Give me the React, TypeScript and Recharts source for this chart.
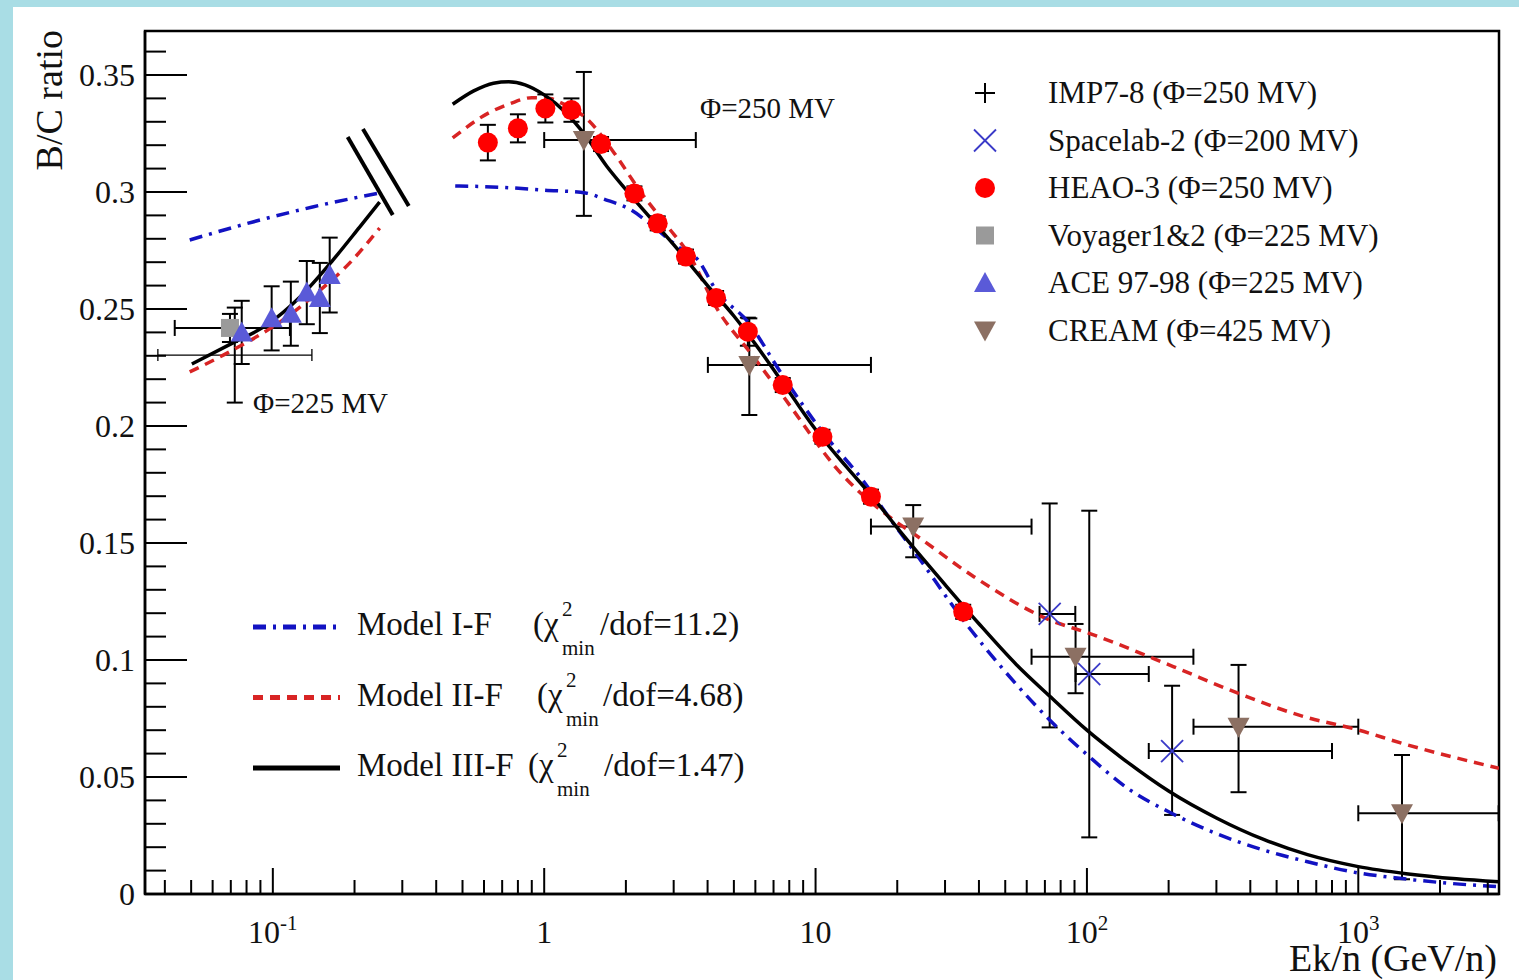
import React from 'react';
import {
  ComposedChart,
  XAxis,
  YAxis,
  Line,
  Scatter,
  ErrorBar,
  ReferenceArea,
  ReferenceLine,
  Legend,
} from 'recharts';

const W = 1519;
const H = 980;
const FONT = '"Liberation Serif", "Times New Roman", serif';

const xDomain = [0.0338, 3300];
const yDomain = [0, 0.3688];

// axis ticks
const xTicks = [
  0.04, 0.05, 0.06, 0.07, 0.08, 0.09, 0.1, 0.2, 0.3, 0.4, 0.5, 0.6, 0.7, 0.8, 0.9, 1, 2, 3, 4, 5, 6, 7, 8,
  9, 10, 20, 30, 40, 50, 60, 70, 80, 90, 100, 200, 300, 400, 500, 600, 700, 800, 900, 1000, 2000, 3000,
];
const xMajorTicks = [0.1, 1, 10, 100, 1000];
const xMajorBase = ['10', '1', '10', '10', '10'];
const xMajorExp = ['-1', '', '', '2', '3'];

const yTicks = [
  0, 0.01, 0.02, 0.03, 0.04, 0.05, 0.06, 0.07, 0.08, 0.09, 0.1, 0.11, 0.12, 0.13, 0.14, 0.15, 0.16, 0.17,
  0.18, 0.19, 0.2, 0.21, 0.22, 0.23, 0.24, 0.25, 0.26, 0.27, 0.28, 0.29, 0.3, 0.31, 0.32, 0.33, 0.34,
  0.35, 0.36,
];
const yMajorTicks = [0, 0.05, 0.1, 0.15, 0.2, 0.25, 0.3, 0.35];
const yMajorLabels = ['0', '0.05', '0.1', '0.15', '0.2', '0.25', '0.3', '0.35'];

// data sets (ex / ey = [low, high] or symmetric)
const imp78 = [{ x: 0.0724, y: 0.2303, ex: [0.0347, 0.0669], ey: 0.0203 }];

const voyager = [{ x: 0.0695, y: 0.2419, ex: [0.026, 0.0461], ey: 0.006 }];

const ace = [
  { x: 0.0768, y: 0.24, ey: 0.0135 },
  { x: 0.099, y: 0.246, ey: 0.0137 },
  { x: 0.1165, y: 0.248, ey: 0.0137 },
  { x: 0.1334, y: 0.257, ey: 0.0135 },
  { x: 0.149, y: 0.2547, ey: 0.015 },
  { x: 0.162, y: 0.2645, ey: 0.016 },
];

const heao = [
  { x: 0.62, y: 0.3211, ey: 0.0076 },
  { x: 0.8, y: 0.3272, ey: 0.006 },
  { x: 1.01, y: 0.3357, ey: 0.006 },
  { x: 1.26, y: 0.335, ey: 0.005 },
  { x: 1.62, y: 0.3205, ey: 0.003 },
  { x: 2.15, y: 0.2994, ey: 0.003 },
  { x: 2.62, y: 0.2866, ey: 0.003 },
  { x: 3.33, y: 0.2724, ey: 0.003 },
  { x: 4.3, y: 0.2547, ey: 0.003 },
  { x: 5.63, y: 0.2403, ey: 0.006 },
  { x: 7.57, y: 0.2175, ey: 0.003 },
  { x: 10.6, y: 0.1954, ey: 0.003 },
  { x: 16.0, y: 0.1698, ey: 0.003 },
  { x: 35.0, y: 0.1206, ey: 0.003 },
];

const spacelab = [
  { x: 72.9, y: 0.1197, ex: [6, 17.7], ey: [0.0485, 0.0472] },
  { x: 102, y: 0.094, ex: [11.2, 67], ey: [0.0698, 0.0698] },
  { x: 206, y: 0.0611, ex: [37, 594], ey: [0.0273, 0.0279] },
];

const cream = [
  { x: 1.4, y: 0.3222, ex: [0.4, 2.22], ey: [0.0324, 0.0291] },
  { x: 5.7, y: 0.2261, ex: [1.69, 10.3], ey: [0.0214, 0.0199] },
  { x: 22.9, y: 0.157, ex: [6.9, 39.6], ey: [0.0131, 0.0092] },
  { x: 90.8, y: 0.1014, ex: [28.3, 156], ey: [0.0156, 0.014] },
  { x: 362, y: 0.0715, ex: [115, 638], ey: [0.028, 0.0264] },
  { x: 1449, y: 0.0345, ex: [449, 1841], ey: [0.0282, 0.0249] },
];

// model curves, low energy part (Φ=225 MV)
const model1Low = [
  { x: 0.0494, y: 0.2795 },
  { x: 0.0844, y: 0.2872 },
  { x: 0.14, y: 0.2936 },
  { x: 0.248, y: 0.2996 },
];
const model2Low = [
  { x: 0.0494, y: 0.2231 },
  { x: 0.0713, y: 0.2325 },
  { x: 0.1089, y: 0.2453 },
  { x: 0.1452, y: 0.2568 },
  { x: 0.1921, y: 0.2697 },
  { x: 0.2476, y: 0.2846 },
];
const model3Low = [
  { x: 0.0503, y: 0.2265 },
  { x: 0.0713, y: 0.2355 },
  { x: 0.0951, y: 0.2432 },
  { x: 0.1259, y: 0.2551 },
  { x: 0.1665, y: 0.2709 },
  { x: 0.2089, y: 0.285 },
  { x: 0.2476, y: 0.2957 },
];

// model curves, high energy part (Φ=250 MV)
const model1High = [
  { x: 0.47, y: 0.3026 },
  { x: 0.7, y: 0.302 },
  { x: 1.0, y: 0.3008 },
  { x: 1.42, y: 0.2996 },
  { x: 1.66, y: 0.297 },
  { x: 2.09, y: 0.2923 },
  { x: 2.54, y: 0.285 },
  { x: 3.12, y: 0.2765 },
  { x: 3.69, y: 0.2709 },
  { x: 4.3, y: 0.258 },
  { x: 5.63, y: 0.2445 },
  { x: 7.57, y: 0.2215 },
  { x: 10.6, y: 0.1975 },
  { x: 15, y: 0.1765 },
  { x: 18.9, y: 0.16 },
  { x: 22.9, y: 0.147 },
  { x: 35, y: 0.1171 },
  { x: 50, y: 0.095 },
  { x: 72.9, y: 0.0744 },
  { x: 102, y: 0.0587 },
  { x: 140, y: 0.0455 },
  { x: 206, y: 0.0344 },
  { x: 300, y: 0.0258 },
  { x: 450, y: 0.0187 },
  { x: 650, y: 0.0138 },
  { x: 1000, y: 0.009 },
  { x: 1450, y: 0.0066 },
  { x: 2200, y: 0.0045 },
  { x: 3300, y: 0.0031 },
];
const model2High = [
  { x: 0.46, y: 0.3231 },
  { x: 0.62, y: 0.3336 },
  { x: 0.75, y: 0.3378 },
  { x: 0.9, y: 0.3403 },
  { x: 1.05, y: 0.34 },
  { x: 1.16, y: 0.338 },
  { x: 1.45, y: 0.3308 },
  { x: 1.81, y: 0.3167 },
  { x: 2.28, y: 0.2996 },
  { x: 2.86, y: 0.285 },
  { x: 3.39, y: 0.2739 },
  { x: 4.36, y: 0.2496 },
  { x: 5.76, y: 0.2312 },
  { x: 7.46, y: 0.2139 },
  { x: 12.4, y: 0.1798 },
  { x: 19.4, y: 0.1598 },
  { x: 22.9, y: 0.1541 },
  { x: 38.3, y: 0.1356 },
  { x: 72.9, y: 0.1171 },
  { x: 102, y: 0.1114 },
  { x: 208, y: 0.0972 },
  { x: 362, y: 0.0857 },
  { x: 630, y: 0.0758 },
  { x: 1000, y: 0.0701 },
  { x: 1449, y: 0.0644 },
  { x: 3300, y: 0.0537 },
];
const model3High = [
  { x: 0.46, y: 0.3375 },
  { x: 0.55, y: 0.3432 },
  { x: 0.65, y: 0.3465 },
  { x: 0.74, y: 0.3471 },
  { x: 0.85, y: 0.3458 },
  { x: 1.0, y: 0.3415 },
  { x: 1.2, y: 0.334 },
  { x: 1.4, y: 0.325 },
  { x: 1.7, y: 0.311 },
  { x: 2.0, y: 0.301 },
  { x: 2.5, y: 0.288 },
  { x: 3.0, y: 0.2775 },
  { x: 4.0, y: 0.26 },
  { x: 5.0, y: 0.247 },
  { x: 6.0, y: 0.235 },
  { x: 8.0, y: 0.2145 },
  { x: 10, y: 0.1985 },
  { x: 13, y: 0.1825 },
  { x: 16, y: 0.1705 },
  { x: 20, y: 0.1565 },
  { x: 25, y: 0.143 },
  { x: 30, y: 0.1322 },
  { x: 40, y: 0.1155 },
  { x: 55, y: 0.098 },
  { x: 73, y: 0.0845 },
  { x: 100, y: 0.07 },
  { x: 135, y: 0.058 },
  { x: 200, y: 0.044 },
  { x: 300, y: 0.0325 },
  { x: 450, y: 0.0232 },
  { x: 650, y: 0.0168 },
  { x: 1000, y: 0.0117 },
  { x: 1500, y: 0.0087 },
  { x: 2300, y: 0.0065 },
  { x: 3300, y: 0.0052 },
];

// legend texts
const datasetNames = [
  'IMP7-8 (Φ=250 MV)',
  'Spacelab-2 (Φ=200 MV)',
  'HEAO-3 (Φ=250 MV)',
  'Voyager1&2 (Φ=225 MV)',
  'ACE 97-98 (Φ=225 MV)',
  'CREAM (Φ=425 MV)',
];
const modelNames = ['Model I-F', 'Model II-F', 'Model III-F'];
const modelChi2 = ['11.2', '4.68', '1.47'];

const BLUE = '#1212c2';
const RED = '#d82424';
const ACE_COLOR = '#5a5ad8';
const CREAM_COLOR = '#8c7063';
const SPACELAB_COLOR = '#3a3ac8';
const VOYAGER_COLOR = '#9a9a9a';
const HEAO_COLOR = '#ff0000';

const modelStyles = [
  { stroke: BLUE, dash: '13 7 3 7' },
  { stroke: RED, dash: '10 7' },
  { stroke: '#000', dash: undefined },
];

const PlusMark = ({ cx, cy }: any) => (
  <g stroke="#000" strokeWidth={2}>
    <line x1={cx - 10} x2={cx + 10} y1={cy} y2={cy} />
    <line x1={cx} x2={cx} y1={cy - 10} y2={cy + 10} />
  </g>
);
const CrossMark = ({ cx, cy }: any) => (
  <g stroke={SPACELAB_COLOR} strokeWidth={1.8}>
    <line x1={cx - 11} x2={cx + 11} y1={cy - 11} y2={cy + 11} />
    <line x1={cx - 11} x2={cx + 11} y1={cy + 11} y2={cy - 11} />
  </g>
);
const CircleMark = ({ cx, cy }: any) => <circle cx={cx} cy={cy} r={10} fill={HEAO_COLOR} />;
const SquareMark = ({ cx, cy }: any) => (
  <rect x={cx - 9} y={cy - 9} width={18} height={18} fill={VOYAGER_COLOR} />
);
const TriUpMark = ({ cx, cy }: any) => (
  <polygon points={`${cx - 11},${cy + 9} ${cx + 11},${cy + 9} ${cx},${cy - 11}`} fill={ACE_COLOR} />
);
const TriDownMark = ({ cx, cy }: any) => (
  <polygon points={`${cx - 11},${cy - 9} ${cx + 11},${cy - 9} ${cx},${cy + 11}`} fill={CREAM_COLOR} />
);
const legendMarks = [PlusMark, CrossMark, CircleMark, SquareMark, TriUpMark, TriDownMark];

const XTick = ({ x, y, payload }: any) => {
  const v = payload.value;
  const i = xMajorTicks.findIndex((t) => Math.abs(t - v) / t < 1e-6);
  const major = i >= 0;
  return (
    <g>
      <line x1={x} x2={x} y1={y} y2={y - (major ? 26 : 14)} stroke="#000" strokeWidth={2} />
      {major && (
        <text x={x} y={y + 49} textAnchor="middle" fontFamily={FONT} fontSize={32} fill="#111">
          {xMajorBase[i]}
          {xMajorExp[i] && (
            <tspan dy={-13} fontSize={21}>
              {xMajorExp[i]}
            </tspan>
          )}
        </text>
      )}
    </g>
  );
};

const YTick = ({ x, y, payload }: any) => {
  const v = payload.value;
  const i = yMajorTicks.findIndex((t) => Math.abs(t - v) < 1e-6);
  const major = i >= 0;
  return (
    <g>
      <line x1={x} x2={x + (major ? 42 : 21)} y1={y} y2={y} stroke="#000" strokeWidth={2} />
      {major && (
        <text x={x - 10} y={y} dy="0.35em" textAnchor="end" fontFamily={FONT} fontSize={32} fill="#111">
          {yMajorLabels[i]}
        </text>
      )}
    </g>
  );
};

const chiX = [533, 537, 528];
const dofX = [600, 603, 604];

const Overlay = () => (
  <svg
    width={W}
    height={H}
    style={{ position: 'absolute', left: 0, top: 0, overflow: 'visible' }}
    fontFamily={FONT}
    fill="#111"
  >
    <text transform="translate(62,30) rotate(-90)" textAnchor="end" fontSize={38}>
      B/C ratio
    </text>
    <text x={1497} y={971} textAnchor="end" fontSize={38}>
      Ek/n (GeV/n)
    </text>
    <text x={700} y={118} fontSize={29}>
      Φ=250 MV
    </text>
    <text x={253} y={413} fontSize={29}>
      Φ=225 MV
    </text>

    {datasetNames.map((name, i) => {
      const cy = 93 + i * 47.5;
      const Mark = legendMarks[i];
      return (
        <g key={name}>
          <Mark cx={985} cy={cy} />
          <text x={1048} y={cy + 10} fontSize={31}>
            {name}
          </text>
        </g>
      );
    })}

    {modelNames.map((name, i) => {
      const cy = 627 + i * 70.5;
      const st = modelStyles[i];
      return (
        <g key={name}>
          <line
            x1={253}
            x2={340}
            y1={cy}
            y2={cy}
            stroke={st.stroke}
            strokeWidth={5}
            strokeDasharray={st.dash}
          />
          <text x={357} y={cy + 8} fontSize={33}>
            {name}
          </text>
          <text x={chiX[i]} y={cy + 8} fontSize={33}>
            (χ
          </text>
          <text x={chiX[i] + 29} y={cy - 11} fontSize={21}>
            2
          </text>
          <text x={chiX[i] + 29} y={cy + 28} fontSize={21}>
            min
          </text>
          <text x={dofX[i]} y={cy + 8} fontSize={33}>
            /dof={modelChi2[i]})
          </text>
        </g>
      );
    })}
  </svg>
);

const curve = (data: { x: number; y: number }[], i: number, key: string) => (
  <Line
    key={key}
    data={data}
    dataKey="y"
    type="monotone"
    stroke={modelStyles[i].stroke}
    strokeWidth={3.5}
    strokeDasharray={modelStyles[i].dash}
    dot={false}
    activeDot={false}
    isAnimationActive={false}
  />
);

export default function App() {
  return (
    <div style={{ position: 'absolute', left: 0, top: 0, width: W, height: H, background: '#a9dde5' }}>
      <div style={{ position: 'absolute', left: 13, top: 7, width: W - 13, height: H - 7, background: '#fff' }} />
      <div style={{ position: 'absolute', left: 0, top: 0 }}>
        <ComposedChart width={W} height={H} margin={{ top: 31, right: 20, bottom: 26, left: 85 }}>
          <XAxis
            dataKey="x"
            type="number"
            scale="log"
            domain={xDomain}
            allowDataOverflow
            ticks={xTicks}
            interval={0}
            height={60}
            tickSize={0}
            tickMargin={0}
            tick={(p: any) => <XTick {...p} />}
            axisLine={{ stroke: '#000', strokeWidth: 2.5 }}
          />
          <YAxis
            dataKey="y"
            type="number"
            domain={yDomain}
            allowDataOverflow
            ticks={yTicks}
            interval={0}
            width={60}
            tickSize={0}
            tickMargin={0}
            tick={(p: any) => <YTick {...p} />}
            axisLine={{ stroke: '#000', strokeWidth: 2.5 }}
          />

          <Scatter data={cream} shape={(p: any) => <TriDownMark {...p} />} isAnimationActive={false}>
            <ErrorBar dataKey="ey" direction="y" width={8} stroke="#000" strokeWidth={2} />
            <ErrorBar dataKey="ex" direction="x" width={8} stroke="#000" strokeWidth={2} />
          </Scatter>
          <Scatter data={spacelab} shape={(p: any) => <CrossMark {...p} />} isAnimationActive={false}>
            <ErrorBar dataKey="ey" direction="y" width={8} stroke="#000" strokeWidth={2} />
            <ErrorBar dataKey="ex" direction="x" width={8} stroke="#000" strokeWidth={2} />
          </Scatter>
          <Scatter data={imp78} shape={(p: any) => <g />} isAnimationActive={false}>
            <ErrorBar dataKey="ey" direction="y" width={8} stroke="#000" strokeWidth={2} />
            <ErrorBar dataKey="ex" direction="x" width={6} stroke="#000" strokeWidth={1.3} />
          </Scatter>
          <Scatter data={voyager} shape={(p: any) => <SquareMark {...p} />} isAnimationActive={false}>
            <ErrorBar dataKey="ey" direction="y" width={8} stroke="#000" strokeWidth={2} />
            <ErrorBar dataKey="ex" direction="x" width={8} stroke="#000" strokeWidth={2} />
          </Scatter>
          <Scatter data={ace} shape={(p: any) => <TriUpMark {...p} />} isAnimationActive={false}>
            <ErrorBar dataKey="ey" direction="y" width={8} stroke="#000" strokeWidth={2} />
          </Scatter>
          <Scatter data={heao} shape={(p: any) => <CircleMark {...p} />} isAnimationActive={false}>
            <ErrorBar dataKey="ey" direction="y" width={8} stroke="#000" strokeWidth={2} />
          </Scatter>

          {curve(model1Low, 0, 'm1l')}
          {curve(model2Low, 1, 'm2l')}
          {curve(model3Low, 2, 'm3l')}
          {curve(model1High, 0, 'm1h')}
          {curve(model2High, 1, 'm2h')}
          {curve(model3High, 2, 'm3h')}

          {/* axis break mark */}
          <ReferenceLine
            segment={[
              { x: 0.1887, y: 0.3235 },
              { x: 0.2767, y: 0.2902 },
            ]}
            stroke="#000"
            strokeWidth={4}
            ifOverflow="visible"
          />
          <ReferenceLine
            segment={[
              { x: 0.2148, y: 0.3269 },
              { x: 0.3169, y: 0.294 },
            ]}
            stroke="#000"
            strokeWidth={4}
            ifOverflow="visible"
          />

          <ReferenceArea
            x1={xDomain[0]}
            x2={xDomain[1]}
            y1={yDomain[0]}
            y2={yDomain[1]}
            fill="none"
            stroke="#000"
            strokeWidth={2.5}
            ifOverflow="visible"
          />

          <Legend
            layout="horizontal"
            verticalAlign="middle"
            align="center"
            wrapperStyle={{ left: 0, top: 0, width: W, height: H, pointerEvents: 'none' }}
            content={() => <Overlay />}
          />
        </ComposedChart>
      </div>
    </div>
  );
}
